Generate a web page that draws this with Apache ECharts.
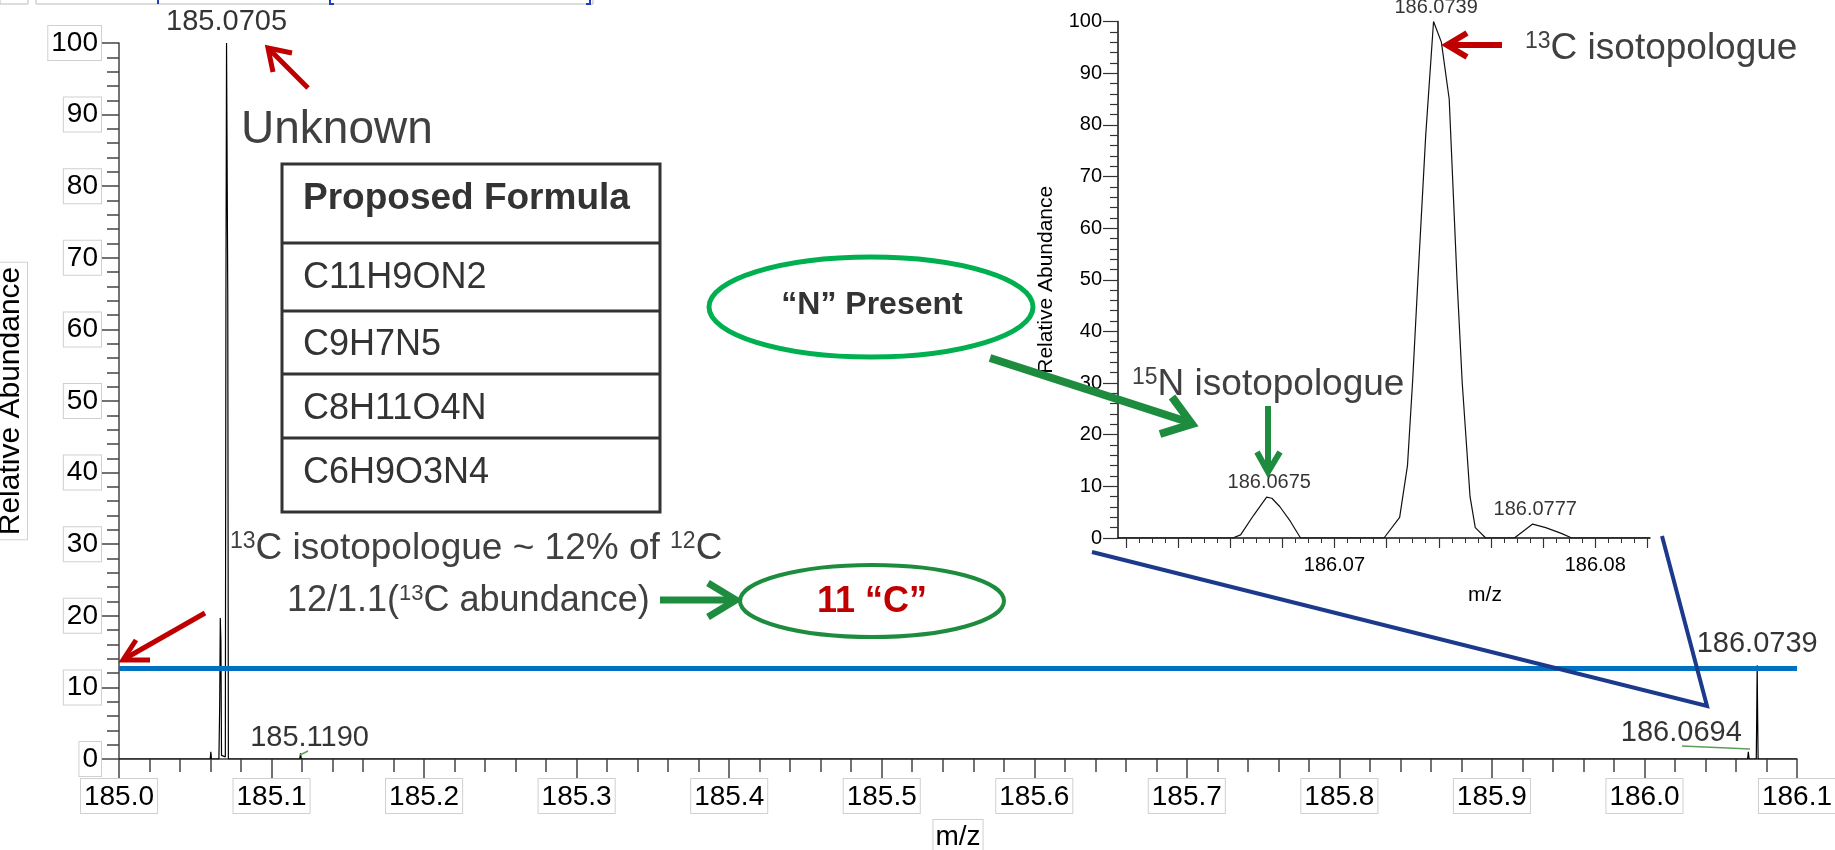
<!DOCTYPE html>
<html>
<head>
<meta charset="utf-8">
<script src="https://cdn.jsdelivr.net/npm/echarts@6/dist/echarts.min.js"></script>
<style>
  html, body { margin: 0; padding: 0; background: #fff; }
  #chart { width: 1835px; height: 850px; }
</style>
</head>
<body>
<div id="chart"></div>
<script>
// full scan, profile points (m/z, relative abundance)
var mainMz  = [185.0000, 185.0598, 185.0602, 185.0606, 185.0655, 185.0660, 185.0664, 185.0668, 185.0672,
               185.0697, 185.0701, 185.0705, 185.0713, 185.0717, 185.1185, 185.1190, 185.1195,
               186.0676, 186.0681, 186.0686, 186.0733, 186.0736, 186.0739, 186.0742, 186.0745, 186.1000];
var mainInt = [0, 0, 1.0, 0, 0, 7.5, 19.7, 16.5, 0.5,
               0.3, 64.5, 100, 64.5, 0, 0, 0.8, 0,
               0, 1.0, 0, 0, 6, 13.1, 6, 0, 0];
// labelled centroids on the full scan
var mainPeakMz  = [185.0705, 185.1190, 186.0694, 186.0739];
var mainPeakInt = [100, 0.8, 1.0, 13.1];
// 13C isotopologue level (~12 % of 12C)
var isoLevel = 12.7;

// zoomed inset around m/z 186.07
var insetMz  = [186.0617, 186.0661, 186.0664, 186.0669, 186.0674, 186.0676, 186.0679, 186.0683, 186.0687,
                186.0719, 186.0725, 186.0728, 186.0730, 186.0732, 186.0735, 186.0738, 186.0741, 186.0744,
                186.0747, 186.0749, 186.0752, 186.0754, 186.0758,
                186.0769, 186.0776, 186.0781, 186.0787, 186.0791, 186.0821];
var insetInt = [0, 0, 0.6, 4.4, 7.9, 7.7, 6.1, 3.3, 0,
                0, 4, 14, 30.6, 50, 78, 100, 96, 85,
                50, 30, 8, 2, 0,
                0, 2.7, 2.0, 0.9, 0, 0];
var insetPeakMz  = [186.0675, 186.0739, 186.0777];
var insetPeakInt = [7.9, 100, 2.7];

// inset x ticks
var insetMinorTicks = [], insetMajorTicks = [];
for (var k = 124; k <= 164; k++) {
  var tv = +(186 + k * 0.0005).toFixed(4);
  insetMinorTicks.push(tv);
  if (k % 4 === 0) insetMajorTicks.push(tv);
}
var insetLabelValues = [186.07, 186.08];

var FF = '"Liberation Sans", Arial, sans-serif';
var AX = '#444';
var RED = '#c00000', GREEN = '#1e8c3e', LGREEN = '#00b050', TXT = '#404040';

var boxLabel = {
  fontFamily: FF, fontSize: 28, color: '#000', backgroundColor: '#fff',
  borderColor: '#d0d0d0', borderWidth: 1, padding: [4, 3, 2, 3]
};
function merge(a, b) { return Object.assign({}, a, b); }

var mainLabelOffset = [[0, 0], [9, 6], [-69, 2], [0, 0]];

var chart = echarts.init(document.getElementById('chart'));

// helpers for the drawn annotations
function line(points, color, width) {
  return { type: 'polyline', z: 100, shape: { points: points },
    style: { stroke: color, lineWidth: width, fill: null, lineJoin: 'miter', lineCap: 'butt' } };
}
function text(x, y, str, size, color, opts) {
  opts = opts || {};
  return { type: 'text', z: 101, x: x, y: y,
    style: {
      text: str, fontSize: size, fontFamily: FF, fontWeight: opts.bold ? 'bold' : 'normal',
      fill: color, align: opts.align || 'left', textAlign: opts.align || 'left',
      verticalAlign: 'middle', textVerticalAlign: 'middle',
      rich: { s: { fontSize: Math.round(size * 0.62), fontFamily: FF, fill: color, color: color, verticalAlign: 'top' } }
    } };
}
function ellipse(cx, cy, rx, ry, color, width) {
  return { type: 'ellipse', z: 100, shape: { cx: cx, cy: cy, rx: rx, ry: ry },
    style: { stroke: color, lineWidth: width, fill: null } };
}

var graphics = [
  // toolbar remnant at top-left
  { type: 'rect', shape: { x: 0, y: -2, width: 28, height: 6 }, style: { fill: '#fff', stroke: '#bbb', lineWidth: 1 } },
  { type: 'rect', shape: { x: 36, y: -2, width: 557, height: 6 }, style: { fill: '#fff', stroke: '#bbb', lineWidth: 1 } },
  line([[158, 0], [158, 4]], '#1f3fbf', 2),
  line([[330, 0], [330, 4], [334, 4]], '#1f3fbf', 2),
  line([[586, 4], [590, 4], [590, 0]], '#1f3fbf', 2),

  // "Unknown" + table
  text(241, 130, 'Unknown', 46, TXT),
  { type: 'rect', z: 100, shape: { x: 282, y: 164, width: 378, height: 348 },
    style: { fill: null, stroke: '#333', lineWidth: 3 } },
  line([[282, 243], [660, 243]], '#333', 3),
  line([[282, 311], [660, 311]], '#333', 3),
  line([[282, 374], [660, 374]], '#333', 3),
  line([[282, 438], [660, 438]], '#333', 3),
  text(303, 199, 'Proposed Formula', 37, '#333', { bold: true }),
  text(303, 278, 'C11H9ON2', 36, '#333'),
  text(303, 345, 'C9H7N5', 36, '#333'),
  text(303, 409, 'C8H11O4N', 36, '#333'),
  text(303, 473, 'C6H9O3N4', 36, '#333'),

  // 13C explanation
  text(230, 549, '{s|13}C isotopologue ~ 12% of {s|12}C', 37, TXT),
  text(287, 601, '12/1.1({s|13}C abundance)', 36, TXT),
  line([[660, 600], [732, 600]], GREEN, 7),
  line([[708, 583], [736, 600], [708, 617]], GREEN, 7),
  ellipse(872, 601, 132, 36, GREEN, 4),
  text(872, 602, '11 \u201cC\u201d', 36, RED, { bold: true, align: 'center' }),

  // "N" present
  ellipse(871, 307, 162, 50, LGREEN, 5),
  text(872, 305, '\u201cN\u201d Present', 32, '#333', { bold: true, align: 'center' }),
  line([[990, 358], [1188, 422]], GREEN, 8),
  line([[1160, 434], [1192, 424], [1172, 397]], GREEN, 8),

  // inset annotations
  text(1132, 385, '{s|15}N isotopologue', 37, TXT),
  line([[1268, 406], [1268, 470]], GREEN, 6),
  line([[1257, 452], [1268, 472], [1280, 452]], GREEN, 6),
  text(1525, 49, '{s|13}C isotopologue', 37, TXT),
  line([[1502, 45], [1450, 45]], RED, 6),
  line([[1467, 33], [1447, 45], [1467, 57]], RED, 6),

  // red arrows on the full scan
  line([[308, 88], [270, 50]], RED, 5),
  line([[273, 72], [268, 48], [292, 53]], RED, 5),
  line([[205, 613], [126, 658]], RED, 5),
  line([[136, 640], [123, 660], [150, 660]], RED, 5),

  // zoom connector lines
  line([[1092, 552], [1707, 706], [1662, 536]], '#1c3a8c', 4),
  line([[1682, 746], [1750, 749]], '#5aa05a', 1.5),
  line([[300, 755], [308, 751]], '#5aa05a', 1.5)
];

chart.setOption({
  animation: false,
  backgroundColor: '#fff',
  grid: [
    { left: 119, right: 38, top: 43, bottom: 91, outerBoundsMode: 'none', containLabel: false },
    { left: 1118, top: 21.5, width: 532, height: 516.5, outerBoundsMode: 'none', containLabel: false }
  ],
  xAxis: [
    {
      gridIndex: 0, type: 'value', min: 185.0, max: 186.1, interval: 0.1,
      axisLine: { show: true, onZero: false, lineStyle: { color: AX, width: 1.5 } },
      axisTick: { show: true, length: 19, lineStyle: { color: AX, width: 1.5 } },
      minorTick: { show: true, splitNumber: 5, length: 13, lineStyle: { color: AX, width: 1.5 } },
      splitLine: { show: false }, minorSplitLine: { show: false },
      axisLabel: merge(boxLabel, { margin: 20, formatter: function (v) { return v.toFixed(1); } }),
      name: 'm/z', nameLocation: 'middle', nameGap: 59,
      nameTextStyle: merge(boxLabel, { padding: [3, 2, 1, 2] })
    },
    {
      gridIndex: 1, type: 'value', min: 186.0617, max: 186.0821, position: 'bottom',
      axisLine: { show: true, onZero: false, lineStyle: { color: '#111', width: 1.5 } },
      axisTick: { show: true, length: 10, customValues: insetMajorTicks, lineStyle: { color: '#333', width: 1.2 } },
      splitLine: { show: false },
      axisLabel: { customValues: insetLabelValues, margin: 17, fontSize: 20, fontFamily: FF, color: '#000',
        formatter: function (v) { return v.toFixed(2); } },
      name: 'm/z', nameLocation: 'middle', nameGap: 47,
      nameTextStyle: { fontSize: 21, fontFamily: FF, color: '#000', padding: [0, 0, 0, 202] }
    },
    {
      gridIndex: 1, type: 'value', min: 186.0617, max: 186.0821, position: 'bottom',
      axisLine: { show: false, onZero: false },
      axisTick: { show: true, length: 5, customValues: insetMinorTicks, lineStyle: { color: '#333', width: 1 } },
      axisLabel: { show: false }, splitLine: { show: false }
    }
  ],
  yAxis: [
    {
      gridIndex: 0, type: 'value', min: 0, max: 100, interval: 10,
      axisLine: { show: true, lineStyle: { color: AX, width: 1.5 } },
      axisTick: { show: true, length: 18, lineStyle: { color: AX, width: 1.5 } },
      minorTick: { show: true, splitNumber: 5, length: 12, lineStyle: { color: AX, width: 1.5 } },
      splitLine: { show: false }, minorSplitLine: { show: false },
      axisLabel: merge(boxLabel, { margin: 18 }),
      name: 'Relative Abundance', nameLocation: 'middle', nameGap: 92, nameRotate: 90,
      nameTextStyle: merge(boxLabel, { fontSize: 30, padding: [1, 4, 1, 4] })
    },
    {
      gridIndex: 1, type: 'value', min: 0, max: 100, interval: 10,
      axisLine: { show: true, lineStyle: { color: '#111', width: 1.5 } },
      axisTick: { show: true, length: 15, lineStyle: { color: '#333', width: 1.2 } },
      minorTick: { show: true, splitNumber: 5, length: 8, lineStyle: { color: '#333', width: 1.2 } },
      splitLine: { show: false }, minorSplitLine: { show: false },
      axisLabel: { margin: 16, fontSize: 20, fontFamily: FF, color: '#000' },
      name: 'Relative Abundance', nameLocation: 'middle', nameGap: 61, nameRotate: 90,
      nameTextStyle: { fontSize: 21, fontFamily: FF, color: '#000' }
    }
  ],
  series: [
    {
      type: 'line', xAxisIndex: 0, yAxisIndex: 0, symbol: 'none',
      data: mainMz.map(function (m, i) { return [m, mainInt[i]]; }),
      lineStyle: { color: '#000', width: 1.2 },
      markLine: {
        silent: true, symbol: 'none', label: { show: false },
        lineStyle: { color: '#0070c0', width: 5, type: 'solid' },
        data: [{ yAxis: isoLevel }]
      }
    },
    {
      type: 'scatter', xAxisIndex: 0, yAxisIndex: 0, symbolSize: 1, clip: false,
      itemStyle: { color: 'rgba(0,0,0,0)' },
      data: mainPeakMz.map(function (m, i) {
        return { value: [m, mainPeakInt[i]], label: { offset: mainLabelOffset[i] } };
      }),
      label: { show: true, position: 'top', distance: 6, fontSize: 29, fontFamily: FF, color: '#000',
        formatter: function (p) { return p.value[0].toFixed(4); } }
    },
    {
      type: 'line', xAxisIndex: 1, yAxisIndex: 1, symbol: 'none',
      data: insetMz.map(function (m, i) { return [m, insetInt[i]]; }),
      lineStyle: { color: '#111', width: 1.2 }
    },
    {
      type: 'scatter', xAxisIndex: 1, yAxisIndex: 1, symbolSize: 1, clip: false,
      itemStyle: { color: 'rgba(0,0,0,0)' },
      data: insetPeakMz.map(function (m, i) { return [m, insetPeakInt[i]]; }),
      label: { show: true, position: 'top', distance: 4, fontSize: 20, fontFamily: FF, color: '#000',
        formatter: function (p) { return p.value[0].toFixed(4); } }
    }
  ],
  graphic: { elements: graphics }
});
</script>
</body>
</html>
